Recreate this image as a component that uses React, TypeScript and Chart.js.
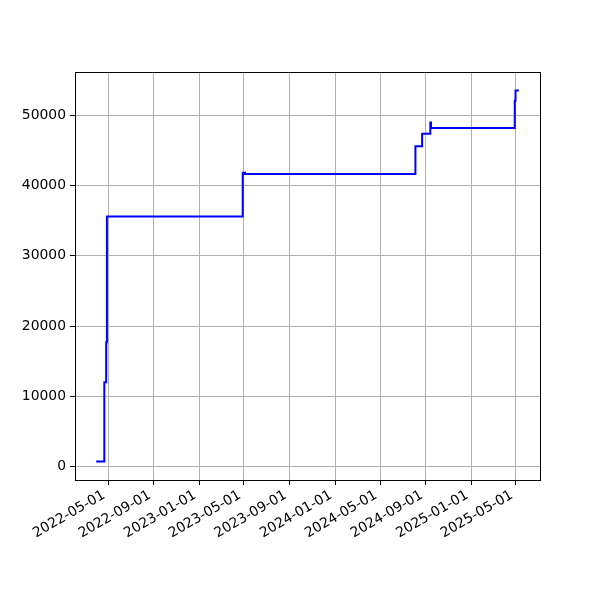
import React, { useEffect, useRef } from "react";
import { Chart, registerables } from "chart.js";

Chart.register(...registerables);

const dates = [
  "2022-03-30", "2022-04-21", "2022-04-26", "2022-04-28",
  "2023-04-28", "2023-05-04",
  "2024-08-04", "2024-08-22", "2024-09-13", "2024-09-15",
  "2025-04-28", "2025-04-30", "2025-05-09",
];
const values = [
  700, 12000, 17700, 35600,
  41850, 41650,
  45600, 47400, 49000, 48200,
  52100, 53550, 53550,
];
const xTickLabels = [
  "2022-05-01", "2022-09-01", "2023-01-01", "2023-05-01", "2023-09-01",
  "2024-01-01", "2024-05-01", "2024-09-01", "2025-01-01", "2025-05-01",
];
const yTicks = [0, 10000, 20000, 30000, 40000, 50000];

const toDay = (s: string) => {
  const [y, m, d] = s.split("-").map(Number);
  return Date.UTC(y, m - 1, d) / 86400000;
};

const boxPlugin = {
  id: "box",
  afterDraw(chart: any) {
    const { ctx, chartArea } = chart;
    ctx.save();
    ctx.strokeStyle = "#000";
    ctx.lineWidth = 1;
    ctx.strokeRect(
      Math.round(chartArea.left) + 0.5,
      Math.round(chartArea.top) + 0.5,
      Math.round(chartArea.right - chartArea.left),
      Math.round(chartArea.bottom - chartArea.top)
    );
    ctx.restore();
  },
};

export default function App() {
  const ref = useRef<HTMLCanvasElement>(null);
  useEffect(() => {
    const xs = dates.map(toDay);
    const xmin0 = Math.min(...xs), xmax0 = Math.max(...xs);
    const xm = (xmax0 - xmin0) * 0.05;
    const ymin0 = Math.min(...values), ymax0 = Math.max(...values);
    const ym = (ymax0 - ymin0) * 0.05;
    const font = { family: "DejaVu Sans", size: 13.9 };
    const chart = new Chart(ref.current!, {
      type: "line",
      data: {
        datasets: [
          {
            data: xs.map((x, i) => ({ x, y: values[i] })),
            borderColor: "#0000ff",
            borderWidth: 2,
            pointRadius: 0,
            stepped: true,
            fill: false,
          },
        ],
      },
      options: {
        animation: false,
        responsive: false,
        devicePixelRatio: 1,
        layout: { padding: { top: 72, right: 60, left: 0, bottom: 0 } },
        plugins: { legend: { display: false }, tooltip: { enabled: false } },
        scales: {
          x: {
            type: "linear",
            min: xmin0 - xm,
            max: xmax0 + xm,
            afterBuildTicks: (scale: any) => {
              scale.ticks = xTickLabels.map((d) => ({ value: toDay(d) }));
            },
            afterFit: (scale: any) => {
              scale.height = 120;
            },
            ticks: {
              autoSkip: false,
              maxRotation: 30,
              minRotation: 30,
              color: "#000",
              font,
              padding: 2,
              labelOffset: -4,
              callback: (_v: any, i: number) => xTickLabels[i],
            },
            grid: { color: "#b0b0b0", lineWidth: 1, tickColor: "#000", tickLength: 5 },
            border: { display: false },
          },
          y: {
            type: "linear",
            min: ymin0 - ym,
            max: ymax0 + ym,
            afterBuildTicks: (scale: any) => {
              scale.ticks = yTicks.map((v) => ({ value: v }));
            },
            afterFit: (scale: any) => {
              scale.width = 75;
            },
            ticks: {
              color: "#000",
              font,
              padding: 4,
              callback: (v: any) => String(v),
            },
            grid: { color: "#b0b0b0", lineWidth: 1, tickColor: "#000", tickLength: 5 },
            border: { display: false },
          },
        },
      },
      plugins: [boxPlugin],
    });
    return () => chart.destroy();
  }, []);
  return (
    <div style={{ position: "fixed", left: 0, top: 0, width: 600, height: 600, background: "#fff" }}>
      <canvas ref={ref} width={600} height={600} />
    </div>
  );
}
